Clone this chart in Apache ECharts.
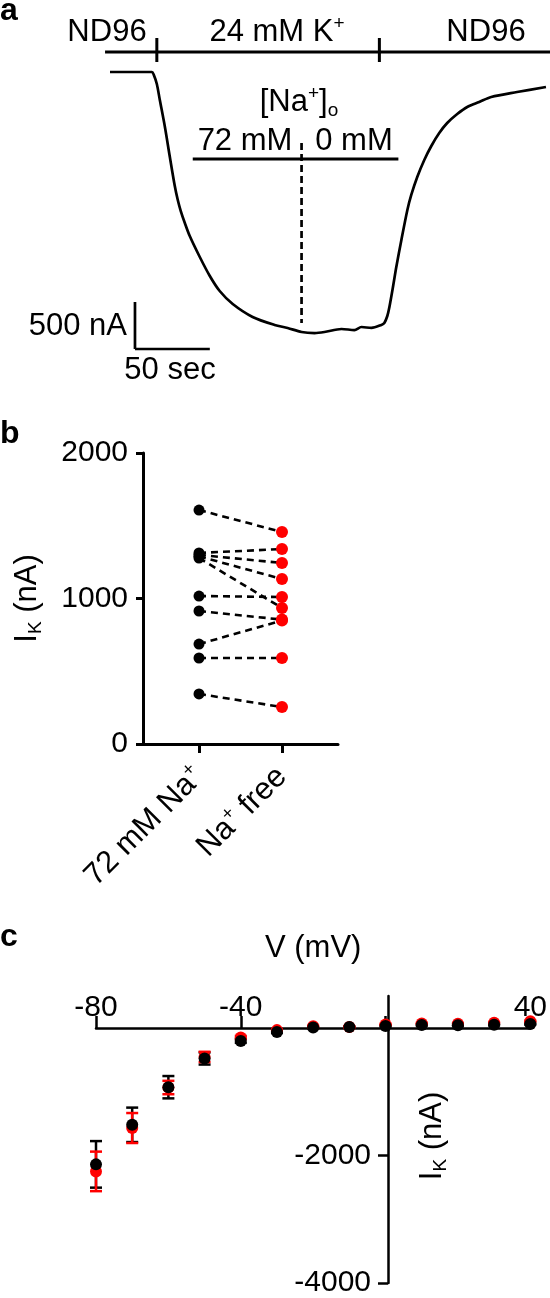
<!DOCTYPE html>
<html>
<head>
<meta charset="utf-8">
<script src="https://cdn.jsdelivr.net/npm/echarts@6.0.0/dist/echarts.min.js"></script>
<style>
  html, body { margin: 0; padding: 0; background: #fff; }
  #chart { width: 550px; height: 1298px; }
</style>
</head>
<body>
<div id="chart"></div>
<script>
// ---- panel a: current trace, time in s, current in nA ----
var traceTime = [0, 28, 29.3, 31.3, 33.3, 36.7, 40, 43.3, 45.3, 47.3, 50, 53.3, 60, 66.7, 73.3, 82, 95.3,
  110, 118.7, 128, 136.7, 143.3, 154.7, 163.3, 168, 174.7, 181.3, 183.3, 185.3, 186.7, 189.3, 191.3,
  194.7, 198.7, 201.3, 205.3, 210, 214.7, 220, 225.3, 232, 238.7, 246.7, 254.7, 272, 291.3];
var traceCurrent = [0, 0, -32, -128, -298, -585, -904, -1213, -1362, -1479, -1606, -1745, -1968, -2170, -2330, -2468, -2606,
  -2691, -2723, -2766, -2777, -2766, -2734, -2745, -2713, -2723, -2691, -2670, -2596, -2500, -2266, -2074,
  -1787, -1468, -1308, -1117, -936, -787, -649, -543, -447, -372, -319, -266, -213, -160];
var solutionChanges = [31.3, 180];   // ND96 -> 24 mM K+ -> ND96
var naChange = 128;                  // 72 mM -> 0 mM Na+
var naPeriod = [55.3, 192.7];
var scaleBar = { t: 50, nA: 500 };

// ---- panel b: paired IK (nA) ----
var groupNames = ['72 mM Na+', 'Na+ free'];
var ikNa72 = [1608, 1313, 1300, 1290, 1278, 1017, 914, 687, 591, 344];
var ikNaFree = [1457, 1340, 1244, 1134, 935, 1010, 855, 848, 591, 254];

// ---- panel c: I-V, mean and SEM (nA) ----
var voltage = [-80, -70, -60, -50, -40, -30, -20, -10, 0, 10, 20, 30, 40];
var ivNa72 = [-2140, -1520, -930, -480, -205, -65, 5, 15, 30, 45, 40, 50, 60];
var ivNa72Err = [365, 270, 175, 95, 30, 15, 10, 10, 10, 10, 10, 10, 10];
var ivNaFree = [-2250, -1570, -935, -455, -150, -35, 25, 15, 55, 70, 65, 80, 105];
var ivNaFreeErr = [310, 235, 105, 80, 25, 10, 10, 10, 10, 10, 10, 10, 10];
var ivXLabels = [-80, -40, 40];
var ivYLabels = [-4000, -2000];

var FONT = 'Liberation Sans, Arial, Helvetica, sans-serif';
var RED = '#ff0000';

var chart = echarts.init(document.getElementById('chart'), null, { renderer: 'canvas' });

function seg(grid, x0, y0, x1, y1, width, dash) {
  return {
    type: 'line', xAxisIndex: grid, yAxisIndex: grid,
    data: [[x0, y0], [x1, y1]],
    symbol: 'none', silent: true, z: 3,
    lineStyle: { color: '#000', width: width, type: dash || 'solid', cap: 'butt' }
  };
}

function errorBars(values, errs, color) {
  return {
    type: 'custom', xAxisIndex: 2, yAxisIndex: 2, z: 4, silent: true,
    data: voltage.map(function (v, i) { return [v, values[i] - errs[i], values[i] + errs[i]]; }),
    renderItem: function (params, api) {
      var lo = api.coord([api.value(0), api.value(1)]);
      var hi = api.coord([api.value(0), api.value(2)]);
      var w = 6;
      var st = { stroke: color, lineWidth: 2.5 };
      return {
        type: 'group', children: [
          { type: 'line', shape: { x1: hi[0], y1: hi[1], x2: lo[0], y2: lo[1] }, style: st },
          { type: 'line', shape: { x1: hi[0] - w, y1: hi[1], x2: hi[0] + w, y2: hi[1] }, style: st },
          { type: 'line', shape: { x1: lo[0] - w, y1: lo[1], x2: lo[0] + w, y2: lo[1] }, style: st }
        ]
      };
    }
  };
}

var rich = {
  t: { fontSize: 31, fontFamily: FONT, color: '#000', lineHeight: 36 },
  sup: { fontSize: 19, fontFamily: FONT, color: '#000', verticalAlign: 'top', lineHeight: 36 },
  sub: { fontSize: 19, fontFamily: FONT, color: '#000', verticalAlign: 'bottom', lineHeight: 30 }
};

function txt(x, y, text, align, extra) {
  var s = {
    text: text, rich: rich, fill: '#000', font: '31px ' + FONT,
    align: align || 'center', textAlign: align || 'center',
    verticalAlign: 'middle', textVerticalAlign: 'middle'
  };
  var el = { type: 'text', x: x, y: y, style: s, silent: true };
  if (extra) { for (var k in extra) el[k] = extra[k]; }
  return el;
}
function panelLabel(x, y, text) {
  return {
    type: 'text', x: x, y: y, silent: true,
    style: { text: text, fill: '#000', font: 'bold 32px ' + FONT, align: 'left', textAlign: 'left',
      verticalAlign: 'middle', textVerticalAlign: 'middle' }
  };
}
function plain(v) { return String(v); }

var series = [];

// panel a
series.push({
  type: 'line', xAxisIndex: 0, yAxisIndex: 0, z: 3, silent: true,
  data: traceTime.map(function (t, i) { return [t, traceCurrent[i]]; }),
  symbol: 'none', smooth: 0.3,
  lineStyle: { color: '#000', width: 2.7 }
});
series.push(seg(0, -3.3, 213, 294, 213, 3));
solutionChanges.forEach(function (t) { series.push(seg(0, t, 362, t, 106, 3)); });
series.push(seg(0, naPeriod[0], -926, naPeriod[1], -926, 3));
series.push(seg(0, naChange, -755, naChange, -2670, 2.7, [7, 4]));
series.push(seg(0, 16.7, -2447, 16.7, -2447 - scaleBar.nA, 2.7));
series.push(seg(0, 16.7, -2447 - scaleBar.nA, 16.7 + scaleBar.t, -2447 - scaleBar.nA, 2.7));

// panel b
ikNa72.forEach(function (v, i) { series.push(seg(1, 1, v, 2, ikNaFree[i], 2.6, [7, 5])); });
series.push({
  type: 'scatter', xAxisIndex: 1, yAxisIndex: 1, z: 5, silent: true, symbolSize: 11,
  itemStyle: { color: '#000', opacity: 1 }, data: ikNa72.map(function (v) { return [1, v]; })
});
series.push({
  type: 'scatter', xAxisIndex: 1, yAxisIndex: 1, z: 5, silent: true, symbolSize: 12,
  itemStyle: { color: RED, opacity: 1 }, data: ikNaFree.map(function (v) { return [2, v]; })
});

// panel c
series.push(errorBars(ivNa72, ivNa72Err, '#000'));
series.push(errorBars(ivNaFree, ivNaFreeErr, RED));
series.push({
  type: 'scatter', xAxisIndex: 2, yAxisIndex: 2, z: 5, silent: true, symbolSize: 12, clip: false,
  itemStyle: { color: RED, opacity: 1 }, data: voltage.map(function (v, i) { return [v, ivNaFree[i]]; })
});
series.push({
  type: 'scatter', xAxisIndex: 2, yAxisIndex: 2, z: 6, silent: true, symbolSize: 12, clip: false,
  itemStyle: { color: '#000', opacity: 1 }, data: voltage.map(function (v, i) { return [v, ivNa72[i]]; })
});

var option = {
  animation: false,
  backgroundColor: '#fff',
  textStyle: { fontFamily: FONT, color: '#000' },
  grid: [
    { left: 104, top: 25, width: 447, height: 329 },
    { left: 143, top: 453, width: 195, height: 291 },
    { left: 96, top: 996, width: 438, height: 290 }
  ],
  xAxis: [
    { gridIndex: 0, type: 'value', min: -4, max: 294, show: false },
    {
      gridIndex: 1, type: 'value', min: 0.325, max: 2.675,
      splitLine: { show: false },
      axisLine: { onZero: false, lineStyle: { color: '#000', width: 3 } },
      axisTick: { customValues: [1, 2], length: 9, lineStyle: { color: '#000', width: 3 } },
      axisLabel: {
        customValues: [1, 2], rotate: 45, margin: 28, rich: rich,
        formatter: function (v) {
          return v === 1 ? '{t|72 mM Na}{sup|+}' : '{t|Na}{sup|+}{t| free}';
        }
      }
    },
    {
      // placed on the zero line of the y axis (offset from the grid's top edge)
      gridIndex: 2, type: 'value', min: -80, max: 40, interval: 40, position: 'top', offset: -32,
      splitLine: { show: false },
      axisLine: { onZero: false, lineStyle: { color: '#000', width: 2.5 } },
      axisTick: { customValues: [-80, -40, 0, 40], length: 12, lineStyle: { color: '#000', width: 2.5 } },
      axisLabel: { customValues: ivXLabels, margin: 5, fontSize: 30, color: '#000', fontFamily: FONT, formatter: plain },
      name: 'V (mV)', nameLocation: 'middle', nameGap: 64,
      nameTextStyle: { fontSize: 31, color: '#000', fontFamily: FONT }
    }
  ],
  yAxis: [
    { gridIndex: 0, type: 'value', min: -3000, max: 500, show: false },
    {
      gridIndex: 1, type: 'value', min: 0, max: 2000, interval: 1000,
      splitLine: { show: false },
      axisLine: { show: true, onZero: false, lineStyle: { color: '#000', width: 3 } },
      axisTick: { show: true, length: 7, lineStyle: { color: '#000', width: 3 } },
      axisLabel: { margin: 15, fontSize: 30, color: '#000', fontFamily: FONT, formatter: plain },
      name: '{t|I}{sub|K}{t| (nA)}', nameLocation: 'middle', nameGap: 98,
      nameTextStyle: { rich: rich }
    },
    {
      // placed on V = 0 (offset from the grid's left edge)
      gridIndex: 2, type: 'value', min: -4000, max: 500, interval: 2000, position: 'left', offset: -292,
      splitLine: { show: false },
      axisLine: { show: true, onZero: false, lineStyle: { color: '#000', width: 2.5 } },
      axisTick: { show: true, customValues: ivYLabels, length: 10, lineStyle: { color: '#000', width: 2.5 } },
      axisLabel: { customValues: ivYLabels, margin: 17, fontSize: 30, color: '#000', fontFamily: FONT, formatter: plain }
    }
  ],
  graphic: [
    panelLabel(0, 11, 'a'),
    panelLabel(0, 434, 'b'),
    panelLabel(0, 937, 'c'),
    txt(107, 32, '{t|ND96}'),
    txt(277, 32, '{t|24 mM K}{sup|+}'),
    txt(486, 32, '{t|ND96}'),
    txt(299, 102, '{t|[Na}{sup|+}{t|]}{sub|o}'),
    txt(245, 141, '{t|72 mM}'),
    txt(354, 141, '{t|0 mM}'),
    txt(127, 326, '{t|500 nA}', 'right'),
    txt(170, 370, '{t|50 sec}'),
    txt(432, 1136, '{t|I}{sub|K}{t| (nA)}', 'center', { rotation: Math.PI / 2 })
  ],
  series: series
};

option && chart.setOption(option);
window.addEventListener('resize', function () { chart.resize(); });
</script>
</body>
</html>
